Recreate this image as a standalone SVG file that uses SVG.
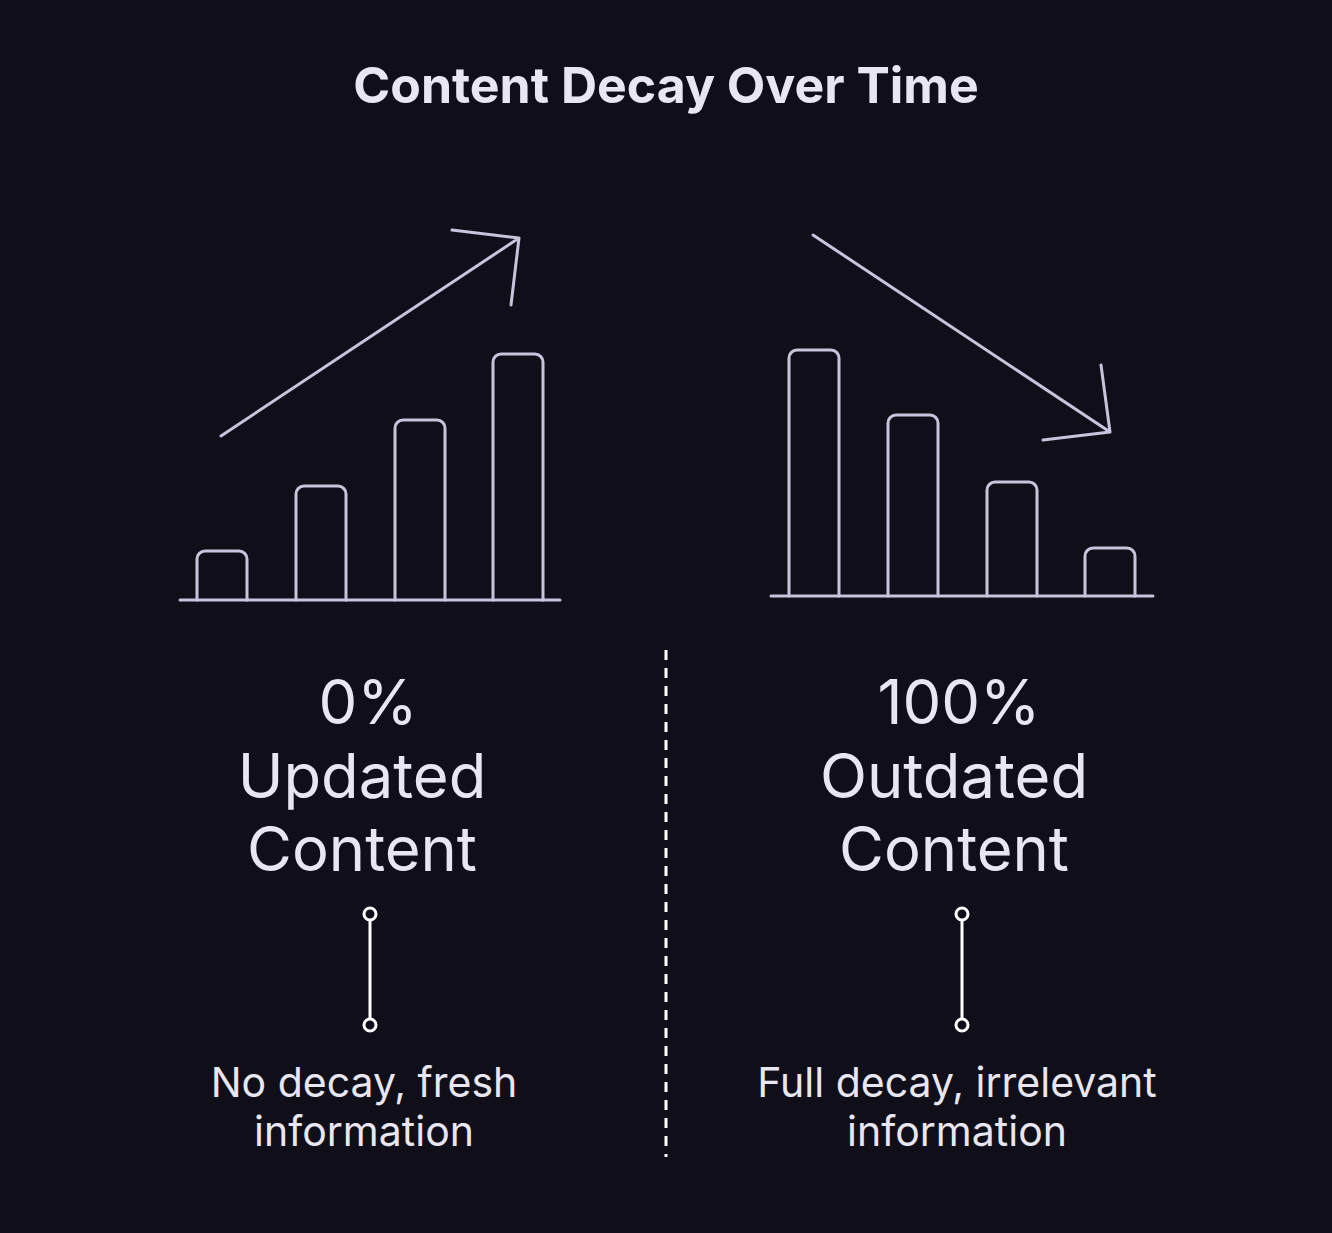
<svg xmlns="http://www.w3.org/2000/svg" width="1332" height="1233" viewBox="0 0 1332 1233">
<style>
.ln{fill:none;stroke:#c9c4de;stroke-width:3;stroke-linejoin:round;stroke-linecap:round}
.t{font-family:Inter,"Liberation Sans",sans-serif;fill:#e8e6f0;text-anchor:middle}
.big{font-size:61.5px}
.sm{font-size:41px}
.con{fill:none;stroke:#ffffff;stroke-width:3}
</style>
<rect width="1332" height="1233" fill="#100e18"/>
<text class="t" x="666" y="103" font-size="50" font-weight="bold">Content Decay Over Time</text>
<g id="chart-left">
<line class="ln" x1="180" y1="600" x2="560" y2="600"/>
<path class="ln" d="M197 600V559a8 8 0 0 1 8-8h34a8 8 0 0 1 8 8V600"/>
<path class="ln" d="M296 600V494a8 8 0 0 1 8-8h34a8 8 0 0 1 8 8V600"/>
<path class="ln" d="M395 600V428a8 8 0 0 1 8-8h34a8 8 0 0 1 8 8V600"/>
<path class="ln" d="M493 600V362a8 8 0 0 1 8-8h34a8 8 0 0 1 8 8V600"/>
<path class="ln" d="M221 436L519 238M452 230L519 238L511 305"/>
</g>
<g id="chart-right">
<line class="ln" x1="771" y1="596" x2="1153" y2="596"/>
<path class="ln" d="M789 596V358a8 8 0 0 1 8-8h34a8 8 0 0 1 8 8V596"/>
<path class="ln" d="M888 596V423a8 8 0 0 1 8-8h34a8 8 0 0 1 8 8V596"/>
<path class="ln" d="M987 596V490a8 8 0 0 1 8-8h34a8 8 0 0 1 8 8V596"/>
<path class="ln" d="M1085 596V556a8 8 0 0 1 8-8h34a8 8 0 0 1 8 8V596"/>
<path class="ln" d="M813 235L1110 432M1101 365L1110 432L1043 440"/>
</g>
<g id="label-left">
<text class="t big" x="368" y="724">0%</text>
<text class="t big" x="362" y="798">Updated</text>
<text class="t big" x="362" y="871">Content</text>
</g>
<g id="label-right">
<text class="t big" x="959" y="724">100%</text>
<text class="t big" x="954" y="798">Outdated</text>
<text class="t big" x="954" y="871">Content</text>
</g>
<g id="connectors">
<line class="con" x1="370" y1="920" x2="370" y2="1019"/>
<circle class="con" cx="370" cy="914" r="6"/>
<circle class="con" cx="370" cy="1025" r="6"/>
<line class="con" x1="962" y1="920" x2="962" y2="1019"/>
<circle class="con" cx="962" cy="914" r="6"/>
<circle class="con" cx="962" cy="1025" r="6"/>
<line x1="666" y1="650" x2="666" y2="1157" stroke="#ffffff" stroke-width="3" stroke-dasharray="10 8"/>
</g>
<g id="desc-left">
<text class="t sm" x="364" y="1097">No decay, fresh</text>
<text class="t sm" x="364" y="1146">information</text>
</g>
<g id="desc-right">
<text class="t sm" x="957" y="1097">Full decay, irrelevant</text>
<text class="t sm" x="957" y="1146">information</text>
</g>
</svg>
